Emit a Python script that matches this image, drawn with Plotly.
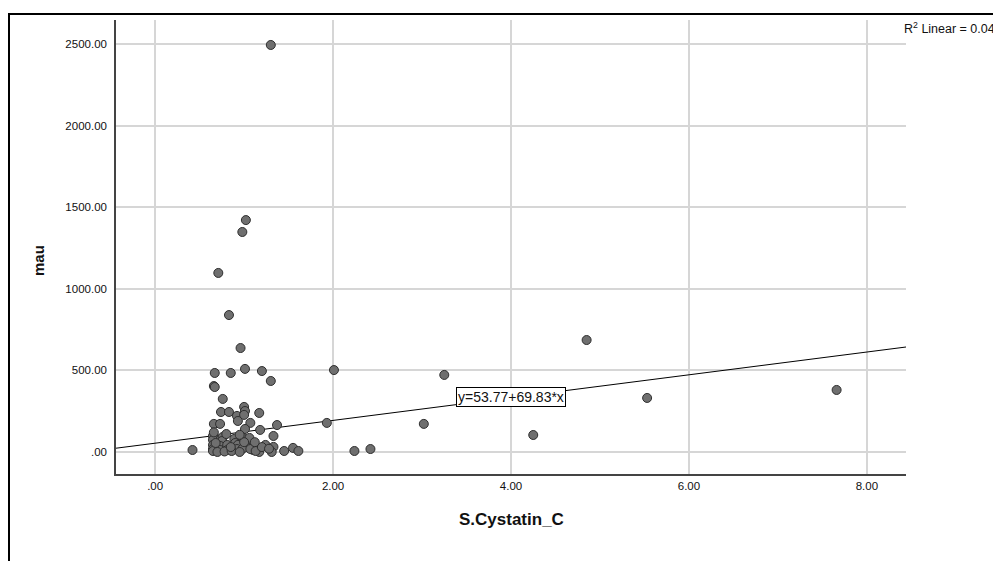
import plotly.graph_objects as go

# ---- data ----
cystatin_c = [1.30, 1.02, 0.98, 0.71, 0.83, 0.96,
              0.67, 0.85, 1.01, 1.20, 1.30, 0.66, 0.67, 0.76,
              2.01, 3.25, 3.02, 2.24, 2.42, 1.93, 4.25, 4.85, 5.53, 7.66, 0.42,
              0.74, 0.83, 1.00, 1.01, 0.92, 1.00, 0.93, 1.07, 1.17, 0.66, 0.73, 1.01, 1.18, 1.37, 1.33,
              1.24, 1.33, 1.10, 1.17, 1.31, 1.45, 1.55, 1.61,
              0.65, 0.76, 0.89, 0.99, 1.06, 0.65, 0.75, 0.90, 0.65, 0.73, 0.81, 0.93, 1.03,
              0.65, 0.73, 0.81, 0.92, 0.98, 1.07, 1.13, 0.65, 0.70, 0.78, 0.86, 0.95, 1.20,
              0.68, 0.85, 1.00, 0.66, 0.80, 0.95, 1.12, 1.28]
mau = [2494, 1421, 1348, 1097, 839, 637,
       484, 484, 509, 496, 435, 404, 398, 325,
       502, 472, 172, 6, 18, 178, 104, 686, 331, 380, 12,
       245, 245, 276, 251, 221, 227, 190, 178, 239, 172, 172, 141, 135, 165, 98,
       43, 31, 12, 0, 0, 6, 25, 6,
       98, 92, 80, 86, 86, 74, 67, 55, 43, 37, 43, 43, 31,
       18, 12, 12, 18, 18, 18, 6, 6, 0, 3, 6, 0, 30,
       55, 30, 60, 120, 110, 105, 60, 20]

fit_intercept = 53.77
fit_slope = 69.83
r2_text = "R<sup>2</sup> Linear = 0.04"

x_tickvals = [0, 2, 4, 6, 8]
x_ticktext = [".00", "2.00", "4.00", "6.00", "8.00"]
y_tickvals = [0, 500, 1000, 1500, 2000, 2500]
y_ticktext = [".00", "500.00", "1000.00", "1500.00", "2000.00", "2500.00"]

x_range = [-0.44, 8.44]
y_range = [-135, 2647]

FONT = "Arial, Liberation Sans, sans-serif"

# page pixel geometry (page body has an 8px margin)
OFF = 8
PL, PR, PT, PB = 116, 906, 20, 474
W, H = 993, 553
PW, PH = PR - PL, PB - PT


def px(xp):
    return (xp - PL) / PW


def py(yp):
    return (PB - yp) / PH


fig = go.Figure()

# fit line
fit_x = x_range
fit_y = [fit_intercept + fit_slope * v for v in fit_x]
fig.add_trace(go.Scatter(x=fit_x, y=fit_y, mode="lines",
                         line=dict(color="#000000", width=1),
                         hoverinfo="skip", showlegend=False))

fig.add_trace(go.Scatter(x=cystatin_c, y=mau, mode="markers",
                         marker=dict(size=9, color="#6f6f6f",
                                     line=dict(color="#2e2e2e", width=1)),
                         showlegend=False))

fig.update_layout(
    width=W, height=H,
    margin=dict(l=PL - OFF, r=OFF + W - PR, t=PT - OFF, b=OFF + H - PB),
    paper_bgcolor="white", plot_bgcolor="white",
    font=dict(family=FONT, size=11.5, color="#111111"),
    xaxis=dict(range=x_range, tickvals=x_tickvals, ticktext=x_ticktext,
               showgrid=True, gridcolor="#d6d6d6", gridwidth=1.5,
               zeroline=False, showline=True, linecolor="#444444", linewidth=1.5,
               ticks="", tickfont=dict(size=11.5, color="#111111")),
    yaxis=dict(range=y_range, tickvals=y_tickvals, ticktext=y_ticktext,
               showgrid=True, gridcolor="#d6d6d6", gridwidth=1.5,
               zeroline=False, showline=True, linecolor="#444444", linewidth=1.5,
               ticks="", ticklabelstandoff=5, tickfont=dict(size=11.5, color="#111111")),
)

# outer frame (SPSS output box)
fig.add_shape(type="rect", xref="paper", yref="paper",
              x0=px(9), x1=px(1020), y0=py(580), y1=py(14),
              line=dict(color="#000000", width=2), fillcolor="rgba(0,0,0,0)")

# axis titles
fig.add_annotation(text="<b>S.Cystatin_C</b>", xref="paper", yref="paper",
                   x=px(511), y=py(520), xanchor="center", yanchor="middle",
                   showarrow=False, font=dict(family=FONT, size=17, color="#111111"))
fig.add_annotation(text="<b>mau</b>", xref="paper", yref="paper",
                   x=px(38), y=py(261), xanchor="center", yanchor="middle",
                   showarrow=False, textangle=-90,
                   font=dict(family=FONT, size=15, color="#111111"))

# R2 label
fig.add_annotation(text=r2_text, xref="paper", yref="paper",
                   x=px(902), y=py(28), xanchor="left", yanchor="middle",
                   showarrow=False, font=dict(family=FONT, size=12.5, color="#111111"))

# equation box
fig.add_annotation(text=f"y={fit_intercept}+{fit_slope}*x", x=4.0, y=334,
                   xanchor="center", yanchor="middle",
                   showarrow=False, bgcolor="white", bordercolor="#000000",
                   borderwidth=1, borderpad=1,
                   font=dict(family=FONT, size=14, color="#111111"))

fig.write_html("out.html")
